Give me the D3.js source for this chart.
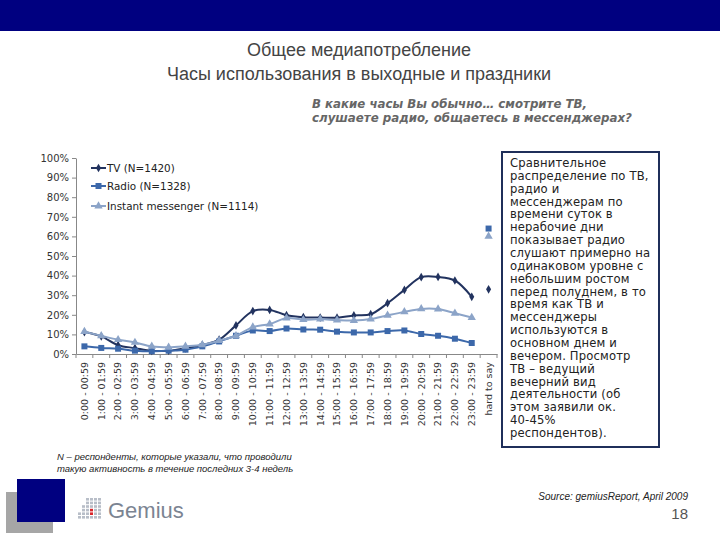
<!DOCTYPE html>
<html>
<head>
<meta charset="utf-8">
<script src="https://cdn.jsdelivr.net/npm/d3@7"></script>
<style>
  body { margin: 0; background: #fff; }
  svg { display: block; }
</style>
</head>
<body>
<svg id="chart"></svg>
<script>
const width = 720;
const height = 540;

// data
const categories = ["0:00 - 00:59", "1:00 - 01:59", "2:00 - 02:59", "3:00 - 03:59", "4:00 - 04:59",
  "5:00 - 05:59", "6:00 - 06:59", "7:00 - 07:59", "8:00 - 08:59", "9:00 - 09:59", "10:00 - 10:59",
  "11:00 - 11:59", "12:00 - 12:59", "13:00 - 13:59", "14:00 - 14:59", "15:00 - 15:59",
  "16:00 - 16:59", "17:00 - 17:59", "18:00 - 18:59", "19:00 - 19:59", "20:00 - 20:59",
  "21:00 - 21:59", "22:00 - 22:59", "23:00 - 23:59", "hard to say"];
const seriesNames = ["TV (N=1420)", "Radio (N=1328)", "Instant messenger (N=1114)"];
const tvValues = [11.2, 9, 4.5, 3, 1.6, 1.7, 2.9, 4.6, 7.3, 14.6, 21.9, 22.5, 19.8, 18.8, 18.6, 18.5,
  19.7, 20.3, 25.9, 32.7, 39.2, 39.3, 37.5, 29.2];
const radioValues = [3.9, 3.1, 2.7, 1.7, 1.4, 1.7, 2.2, 3.9, 6.4, 9.3, 12, 11.7, 13, 12.5, 12.4, 11.4,
  11, 11, 11.7, 12, 10.2, 9.3, 7.8, 5.6];
const imValues = [11.4, 9.3, 7.3, 5.9, 3.9, 3.4, 3.9, 4.7, 6.8, 9.3, 13.7, 15.3, 18.3, 17.5, 17.8, 17.3,
  17.1, 17.8, 19.7, 21.5, 23, 22.9, 20.8, 18.6];
const hardToSay = [33, 64, 60]; // TV, Radio, IM
const yTicks = [0, 10, 20, 30, 40, 50, 60, 70, 80, 90, 100];

const boxLines = ["Сравнительное", "распределение по ТВ,", "радио и", "мессенджерам по",
  "времени суток в", "нерабочие дни", "показывает радио", "слушают примерно на",
  "одинаковом уровне с", "небольшим ростом", "перед полуднем, в то", "время как ТВ и",
  "мессенджеры", "используются в", "основном днем и", "вечером. Просмотр", "ТВ – ведущий",
  "вечерний вид", "деятельности (об", "этом заявили ок.", "40-45%", "респондентов)."];

const colors = ["#22335f", "#3c68aa", "#8ca4c8"];

const svg = d3.select("#chart").attr("width", width).attr("height", height);

// top band
svg.append("rect").attr("x", 0).attr("y", 0).attr("width", width).attr("height", 31).attr("fill", "#000080");

// titles
svg.append("text").attr("x", 359).attr("y", 56).attr("text-anchor", "middle")
  .attr("font-family", "Liberation Sans, Arial").attr("font-size", 18).attr("fill", "#444")
  .text("Общее медиапотребление");
svg.append("text").attr("x", 359).attr("y", 80).attr("text-anchor", "middle")
  .attr("font-family", "Liberation Sans, Arial").attr("font-size", 18).attr("fill", "#444")
  .text("Часы использования в выходные и праздники");

const q = svg.append("text").attr("font-family", "DejaVu Sans, Verdana").attr("font-size", 11.8)
  .attr("font-style", "italic").attr("font-weight", "bold").attr("fill", "#666");
q.append("tspan").attr("x", 312).attr("y", 108).text("В какие часы Вы обычно… смотрите ТВ,");
q.append("tspan").attr("x", 312).attr("y", 122).text("слушаете радио, общаетесь в мессенджерах?");

// chart area
const plotLeft = 76, plotRight = 497, plotTop = 158, plotBottom = 354;

const x = d3.scaleBand().domain(categories).range([plotLeft, plotRight]);
const y = d3.scaleLinear().domain([0, 100]).range([plotBottom, plotTop]);

const yAxis = svg.append("g")
  .attr("transform", `translate(${plotLeft},0)`)
  .call(d3.axisLeft(y).tickValues(yTicks).tickFormat(d => d + "%").tickSize(4).tickSizeOuter(0));
yAxis.select(".domain").attr("stroke", "#888");
yAxis.selectAll(".tick line").attr("stroke", "#888");
yAxis.selectAll("text").attr("font-family", "DejaVu Sans, Verdana").attr("font-size", 10)
  .attr("fill", "#333").attr("x", -7);

const xAxis = svg.append("g")
  .attr("transform", `translate(0,${plotBottom})`)
  .call(d3.axisBottom(x).tickSize(0).tickSizeOuter(0));
xAxis.select(".domain").attr("stroke", "#888");
xAxis.selectAll("text")
  .attr("font-family", "DejaVu Sans, Verdana").attr("font-size", 9.5).attr("fill", "#333")
  .attr("transform", "rotate(-90)")
  .attr("text-anchor", "end")
  .attr("x", -8).attr("y", 0).attr("dy", "0.35em");

// tick marks between categories
svg.append("g").selectAll("line")
  .data(categories.map((c, i) => i).concat([categories.length]))
  .enter().append("line")
  .attr("x1", i => plotLeft + x.step() * i).attr("x2", i => plotLeft + x.step() * i)
  .attr("y1", plotBottom).attr("y2", plotBottom + 4)
  .attr("stroke", "#888");

const hours = categories.slice(0, 24);
const allSeries = [tvValues, radioValues, imValues];
const line = d3.line()
  .x((d, i) => x(hours[i]) + x.bandwidth() / 2)
  .y(d => y(d))
  .curve(d3.curveCatmullRom.alpha(0.5));

const diamond = d3.symbol().type(d3.symbolDiamond).size(22);
const square = d3.symbol().type(d3.symbolSquare).size(36);
const triangle = d3.symbol().type(d3.symbolTriangle).size(30);
const markers = [diamond, square, triangle];

allSeries.forEach((vals, s) => {
  svg.append("path").datum(vals)
    .attr("d", line).attr("fill", "none")
    .attr("stroke", colors[s]).attr("stroke-width", 2);
  const pts = vals.map((v, i) => [hours[i], v]).concat([["hard to say", hardToSay[s]]]);
  svg.append("g").selectAll("path")
    .data(pts).enter().append("path")
    .attr("d", markers[s])
    .attr("transform", d => `translate(${x(d[0]) + x.bandwidth() / 2},${y(d[1])})`)
    .attr("fill", colors[s]);
});

// legend
const legendY = [168, 186, 206];
const legend = svg.append("g").attr("font-family", "DejaVu Sans, Verdana").attr("font-size", 10.4).attr("fill", "#222");
seriesNames.forEach((name, s) => {
  const ly = legendY[s];
  legend.append("line").attr("x1", 91).attr("x2", 106).attr("y1", ly).attr("y2", ly)
    .attr("stroke", colors[s]).attr("stroke-width", 2);
  legend.append("path").attr("d", markers[s]).attr("transform", `translate(98.5,${ly})`).attr("fill", colors[s]);
  legend.append("text").attr("x", 107).attr("y", ly).attr("dy", "0.35em").text(name);
});

// text box
svg.append("rect").attr("x", 502).attr("y", 152).attr("width", 157).attr("height", 295)
  .attr("fill", "#fff").attr("stroke", "#1f2f5a").attr("stroke-width", 2);
const bt = svg.append("text").attr("font-family", "DejaVu Sans, Verdana").attr("font-size", 11.6)
  .attr("letter-spacing", 0.15).attr("fill", "#222");
boxLines.forEach((l, i) => {
  bt.append("tspan").attr("x", 510).attr("y", 167 + i * 12.86).text(l);
});

// footnote
const fn = svg.append("text").attr("font-family", "Liberation Sans, Arial").attr("font-size", 9.5)
  .attr("font-style", "italic").attr("fill", "#222");
fn.append("tspan").attr("x", 57).attr("y", 460).text("N – респонденты, которые указали, что проводили");
fn.append("tspan").attr("x", 57).attr("y", 472).text("такую активность в течение последних 3-4 недель");

// source & page
svg.append("text").attr("x", 688).attr("y", 500).attr("text-anchor", "end")
  .attr("font-family", "Liberation Sans, Arial").attr("font-size", 10).attr("font-style", "italic")
  .attr("fill", "#222").text("Source: gemiusReport, April 2009");
svg.append("text").attr("x", 688).attr("y", 519).attr("text-anchor", "end")
  .attr("font-family", "Liberation Sans, Arial").attr("font-size", 15)
  .attr("fill", "#555").text("18");

// logo
svg.append("rect").attr("x", 6).attr("y", 492).attr("width", 47).attr("height", 41).attr("fill", "#a6a6a6");
svg.append("rect").attr("x", 17).attr("y", 479).attr("width", 48).attr("height", 43).attr("fill", "#000080");
const dots = svg.append("g");
for (let c = 0; c < 6; c++) {
  for (let r = 0; r < 6; r++) {
    if (c < 2 && r < 4 - c * 2) continue;
    dots.append("rect").attr("x", 78 + c * 4).attr("y", 498 + r * 3.6).attr("width", 3).attr("height", 2.6)
      .attr("fill", (c === 3 && (r === 3 || r === 4)) ? "#d9262b" : "#b8bec8");
  }
}
svg.append("text").attr("x", 108).attr("y", 518).attr("font-family", "Liberation Sans, Arial")
  .attr("font-size", 22).attr("fill", "#7b8492").text("Gemius");
</script>
</body>
</html>
